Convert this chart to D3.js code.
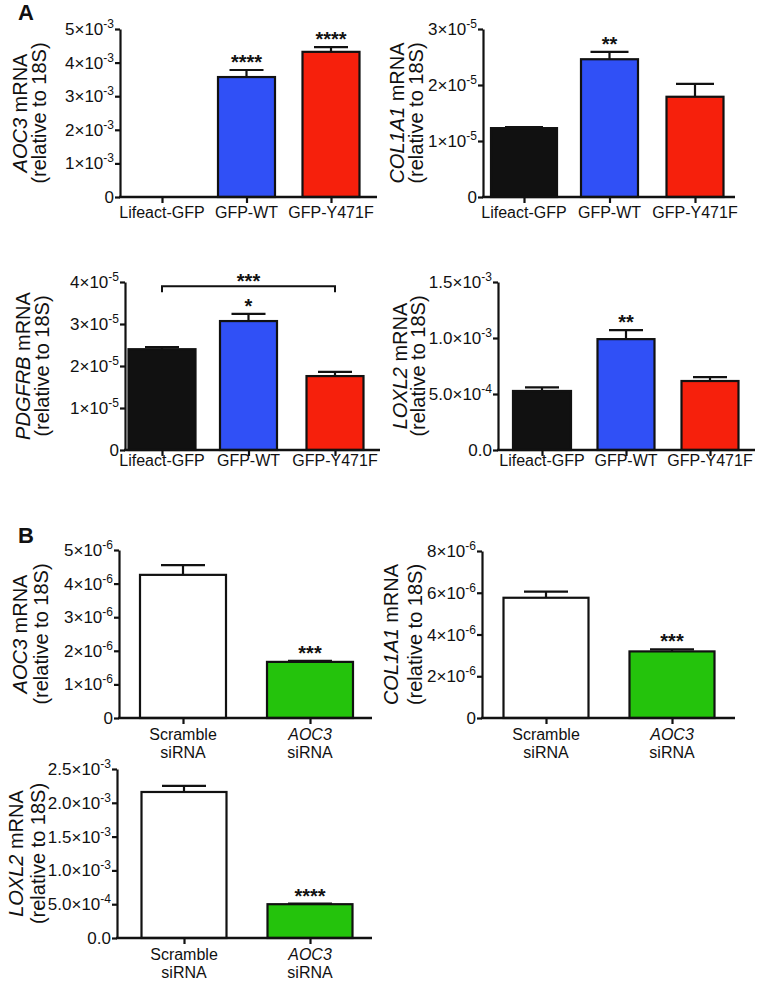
<!DOCTYPE html>
<html><head><meta charset="utf-8">
<script src="https://cdn.jsdelivr.net/npm/d3@7"></script>
<style>
body{margin:0;background:#fff}
svg{display:block;background:#fff}
text{font-family:"Liberation Sans",Arial,Helvetica,sans-serif;fill:#111}
</style>
</head><body><svg id="c" width="758" height="986"></svg>
<script>
// ---------- DATA ----------
const groupsA = ["Lifeact-GFP", "GFP-WT", "GFP-Y471F"];
const colorsA = ["#111111", "#3050f6", "#f6200c"];

const aoc3A = [0, 3.57e-3, 4.32e-3];
const aoc3ASem = [0, 0.21e-3, 0.14e-3];
const aoc3ASig = ["", "****", "****"];
const aoc3ATicks = [0, 1e-3, 2e-3, 3e-3, 4e-3, 5e-3];
const aoc3ATickLabels = ["0", "1×10^-3", "2×10^-3", "3×10^-3", "4×10^-3", "5×10^-3"];

const col1a1A = [1.23e-5, 2.46e-5, 1.79e-5];
const col1a1ASem = [0.02e-5, 0.13e-5, 0.23e-5];
const col1a1ASig = ["", "**", ""];
const col1a1ATicks = [0, 1e-5, 2e-5, 3e-5];
const col1a1ATickLabels = ["0", "1×10^-5", "2×10^-5", "3×10^-5"];

const pdgfrbA = [2.40e-5, 3.07e-5, 1.76e-5];
const pdgfrbASem = [0.05e-5, 0.17e-5, 0.10e-5];
const pdgfrbASig = ["", "*", ""];
const pdgfrbABracket = {from: 0, to: 2, level: 3.9e-5, label: "***"};
const pdgfrbATicks = [0, 1e-5, 2e-5, 3e-5, 4e-5];
const pdgfrbATickLabels = ["0", "1×10^-5", "2×10^-5", "3×10^-5", "4×10^-5"];

const loxl2A = [0.527e-3, 0.99e-3, 0.616e-3];
const loxl2ASem = [0.033e-3, 0.08e-3, 0.034e-3];
const loxl2ASig = ["", "**", ""];
const loxl2ATicks = [0, 5e-4, 1e-3, 1.5e-3];
const loxl2ATickLabels = ["0.0", "5.0×10^-4", "1.0×10^-3", "1.5×10^-3"];

const groupsB = ["Scramble siRNA", "AOC3 siRNA"];
const groupsBItalic = [false, true];
const colorsB = ["#ffffff", "#24c30c"];

const aoc3B = [4.26e-6, 1.67e-6];
const aoc3BSem = [0.29e-6, 0.03e-6];
const aoc3BSig = ["", "***"];
const aoc3BTicks = [0, 1e-6, 2e-6, 3e-6, 4e-6, 5e-6];
const aoc3BTickLabels = ["0", "1×10^-6", "2×10^-6", "3×10^-6", "4×10^-6", "5×10^-6"];

const col1a1B = [5.76e-6, 3.19e-6];
const col1a1BSem = [0.29e-6, 0.10e-6];
const col1a1BSig = ["", "***"];
const col1a1BTicks = [0, 2e-6, 4e-6, 6e-6, 8e-6];
const col1a1BTickLabels = ["0", "2×10^-6", "4×10^-6", "6×10^-6", "8×10^-6"];

const loxl2B = [2.16e-3, 0.50e-3];
const loxl2BSem = [0.09e-3, 0.01e-3];
const loxl2BSig = ["", "****"];
const loxl2BTicks = [0, 5e-4, 1e-3, 1.5e-3, 2e-3, 2.5e-3];
const loxl2BTickLabels = ["0.0", "5.0×10^-4", "1.0×10^-3", "1.5×10^-3", "2.0×10^-3", "2.5×10^-3"];

// ---------- PANELS (data + layout) ----------
const panels = [
  {gene:"AOC3", groups:groupsA, colors:colorsA, values:aoc3A, sem:aoc3ASem, sig:aoc3ASig, ticks:aoc3ATicks, tickLabels:aoc3ATickLabels,
   L:{ax:120, y0:197, yTop:29, xEnd:377, c1:162, cN:331, barW:57, firstW:57, capW:34, l1:27, l2:46, catDy:21}},
  {gene:"COL1A1", groups:groupsA, colors:colorsA, values:col1a1A, sem:col1a1ASem, sig:col1a1ASig, ticks:col1a1ATicks, tickLabels:col1a1ATickLabels,
   L:{ax:483, y0:197, yTop:29, xEnd:735, c1:524, cN:695, barW:57, firstW:66, capW:38, l1:404, l2:423, catDy:21}},
  {gene:"PDGFRB", groups:groupsA, colors:colorsA, values:pdgfrbA, sem:pdgfrbASem, sig:pdgfrbASig, ticks:pdgfrbATicks, tickLabels:pdgfrbATickLabels, bracket:pdgfrbABracket,
   L:{ax:125, y0:450, yTop:282, xEnd:380, c1:162, cN:335, barW:57, firstW:67, capW:34, l1:30, l2:49, catDy:16}},
  {gene:"LOXL2", groups:groupsA, colors:colorsA, values:loxl2A, sem:loxl2ASem, sig:loxl2ASig, ticks:loxl2ATicks, tickLabels:loxl2ATickLabels,
   L:{ax:498, y0:450, yTop:282, xEnd:755, c1:542, cN:710, barW:57, firstW:58, capW:34, l1:407, l2:425, catDy:16}},
  {gene:"AOC3", groups:groupsB, italic:groupsBItalic, colors:colorsB, values:aoc3B, sem:aoc3BSem, sig:aoc3BSig, ticks:aoc3BTicks, tickLabels:aoc3BTickLabels,
   L:{ax:119, y0:718, yTop:550, xEnd:372, c1:183, cN:310, barW:86, firstW:86, capW:44, l1:27, l2:48, catDy:22}},
  {gene:"COL1A1", groups:groupsB, italic:groupsBItalic, colors:colorsB, values:col1a1B, sem:col1a1BSem, sig:col1a1BSig, ticks:col1a1BTicks, tickLabels:col1a1BTickLabels,
   L:{ax:482, y0:718, yTop:551, xEnd:735, c1:546, cN:672, barW:85, firstW:85, capW:44, l1:398, l2:422, catDy:22}},
  {gene:"LOXL2", groups:groupsB, italic:groupsBItalic, colors:colorsB, values:loxl2B, sem:loxl2BSem, sig:loxl2BSig, ticks:loxl2BTicks, tickLabels:loxl2BTickLabels,
   L:{ax:117, y0:938, yTop:769, xEnd:372, c1:184, cN:310, barW:85, firstW:85, capW:44, l1:23, l2:45, catDy:22}}
];

const svg = d3.select("#c");
svg.append("rect").attr("width",758).attr("height",986).attr("fill","#fff");

// panel letters
svg.append("text").attr("x",18).attr("y",20).attr("font-size",22).attr("font-weight","bold").text("A");
svg.append("text").attr("x",18).attr("y",543).attr("font-size",22).attr("font-weight","bold").text("B");

function drawPanel(p){
  const L = p.L;
  const g = svg.append("g");
  const y = d3.scaleLinear().domain([0, p.ticks[p.ticks.length-1]]).range([L.y0, L.yTop]);
  const x = d3.scalePoint().domain(p.groups).range([L.c1, L.cN]);
  const bw = i => i === 0 ? L.firstW : L.barW;

  // bars
  g.selectAll("rect.bar").data(p.values).join("rect").attr("class","bar")
    .attr("x",(d,i)=>x(p.groups[i]) - bw(i)/2)
    .attr("width",(d,i)=>bw(i))
    .attr("y",d=>y(d))
    .attr("height",d=>y(0)-y(d))
    .attr("fill",(d,i)=>p.colors[i])
    .attr("stroke","#111").attr("stroke-width",2.2)
    .attr("display",d=>d>0?null:"none");

  // error bars (upper only)
  p.values.forEach((v,i)=>{
    if(!(p.sem[i]>0)) return;
    const cx = x(p.groups[i]);
    const top = y(v + p.sem[i]);
    g.append("line").attr("x1",cx).attr("x2",cx).attr("y1",y(v)).attr("y2",top)
      .attr("stroke","#111").attr("stroke-width",2.2);
    g.append("line").attr("x1",cx-L.capW/2).attr("x2",cx+L.capW/2).attr("y1",top).attr("y2",top)
      .attr("stroke","#111").attr("stroke-width",2.2);
  });

  // significance
  p.values.forEach((v,i)=>{
    if(!p.sig[i]) return;
    const top = y(v + p.sem[i]);
    g.append("text").attr("x",x(p.groups[i])).attr("y",top-1)
      .attr("text-anchor","middle").attr("font-size",20).attr("font-weight","bold").text(p.sig[i]);
  });
  if(p.bracket){
    const b = p.bracket, by = y(b.level);
    const x1 = x(p.groups[b.from]), x2 = x(p.groups[b.to]);
    g.append("path").attr("d",`M${x1},${by+6}V${by}H${x2}V${by+6}`)
      .attr("fill","none").attr("stroke","#111").attr("stroke-width",2);
    g.append("text").attr("x",(x1+x2)/2).attr("y",by+2).attr("text-anchor","middle")
      .attr("font-size",20).attr("font-weight","bold").text(b.label);
  }

  // y axis
  const ya = g.append("g").attr("transform",`translate(${L.ax},0)`)
    .call(d3.axisLeft(y).tickValues(p.ticks).tickSize(5).tickSizeOuter(0).tickFormat(""));
  ya.selectAll("path,line").attr("stroke","#111").attr("stroke-width",2.2);
  p.ticks.forEach((t,i)=>{
    const parts = p.tickLabels[i].split("^");
    const tx = g.append("text").attr("x",L.ax-6).attr("y",y(t)+6).attr("text-anchor","end").attr("font-size",17);
    tx.append("tspan").text(parts[0]);
    if(parts[1]) tx.append("tspan").attr("font-size",12).attr("dy",-7).text(parts[1]);
  });

  // x axis
  g.append("line").attr("x1",L.ax-1).attr("x2",L.xEnd).attr("y1",y(0)).attr("y2",y(0))
    .attr("stroke","#111").attr("stroke-width",2.4);
  const xa = g.append("g").attr("transform",`translate(0,${y(0)})`)
    .call(d3.axisBottom(x).tickSize(6).tickSizeOuter(0).tickFormat(""));
  xa.select(".domain").remove();
  xa.selectAll("line").attr("stroke","#111").attr("stroke-width",2.2);

  // category labels
  p.groups.forEach((gname,i)=>{
    const cx = x(gname);
    if(p.italic){
      const w = gname.split(" ");
      g.append("text").attr("x",cx).attr("y",y(0)+L.catDy).attr("text-anchor","middle").attr("font-size",16)
        .attr("font-style",p.italic[i]?"italic":"normal").text(w[0]);
      g.append("text").attr("x",cx).attr("y",y(0)+L.catDy+18).attr("text-anchor","middle").attr("font-size",16).text(w[1]);
    } else {
      g.append("text").attr("x",cx).attr("y",y(0)+L.catDy).attr("text-anchor","middle").attr("font-size",16).text(gname);
    }
  });

  // y label
  const mid = (L.y0+L.yTop)/2;
  const t1 = g.append("text").attr("transform",`translate(${L.l1},${mid}) rotate(-90)`).attr("text-anchor","middle").attr("font-size",20);
  t1.append("tspan").attr("font-style","italic").text(p.gene);
  t1.append("tspan").text(" mRNA");
  g.append("text").attr("transform",`translate(${L.l2},${mid}) rotate(-90)`).attr("text-anchor","middle").attr("font-size",20)
    .text("(relative to 18S)");
}

panels.forEach(drawPanel);
</script>
</body></html>
